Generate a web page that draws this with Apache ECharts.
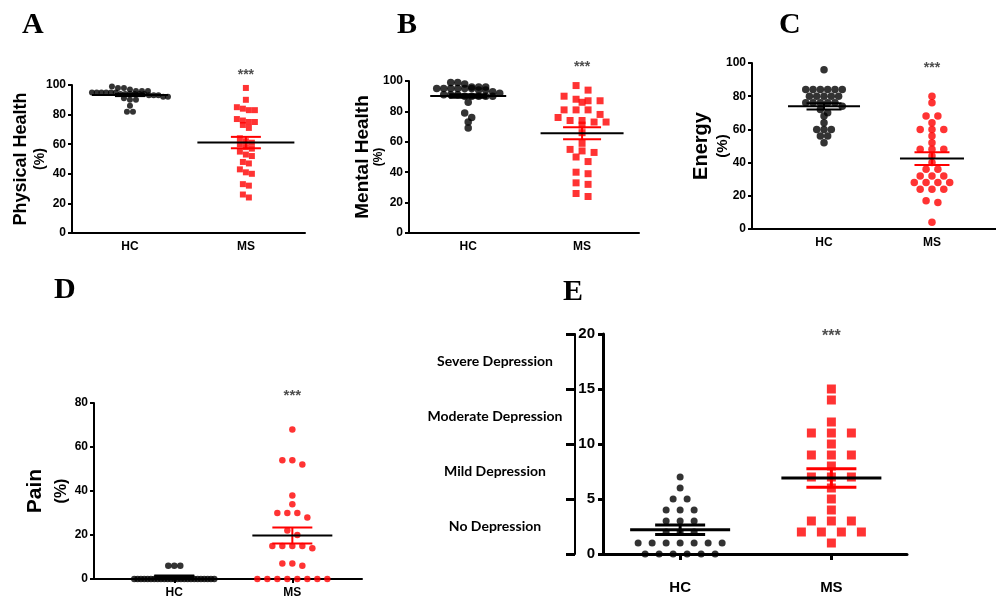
<!DOCTYPE html>
<html><head><meta charset="utf-8">
<script src="https://cdn.jsdelivr.net/npm/echarts@6/dist/echarts.min.js"></script>
<style>html,body{margin:0;padding:0;background:#fff}#c{width:996px;height:604px}</style>
</head><body><div id="c"></div>
<script>
// ---------- data ----------
const groups = ['HC', 'MS'];
const depressionLevels = ['No Depression', 'Mild Depression', 'Moderate Depression', 'Severe Depression'];

const physHC = [99, 98, 98, 97, 96, 96, 96, 95, 95, 95, 95, 95, 95, 94, 94, 94, 94, 94, 94, 93, 93, 93, 92, 92, 91, 90, 90, 86, 82, 82];
const physMS = [98, 90, 85, 84, 83, 83, 77, 76, 75, 75, 73, 71, 64, 62, 61, 60, 58, 57, 55, 53, 52, 48, 47, 43, 41, 40, 33, 32, 26, 24];
const physMean = [93.2, 61.1];
const physSem = [0.7, 3.85];

const mentHC = [99, 99, 98, 96, 96, 96, 95, 95, 95, 95, 95, 95, 94, 94, 93, 92, 91, 91, 91, 90, 90, 90, 90, 90, 86, 79, 76, 73, 69];
const mentMS = [97, 94, 90, 88, 87, 87, 86, 81, 81, 81, 78, 76, 74, 74, 73, 73, 71, 66, 59, 55, 54, 53, 50, 47, 40, 39, 33, 32, 26, 24];
const mentMean = [90.1, 65.6];
const mentSem = [1.2, 3.9];

const energyHC = [96, 84, 84, 84, 84, 84, 84, 80, 80, 80, 80, 80, 76, 76, 76, 76, 76, 74, 72, 70, 68, 64, 60, 60, 60, 56, 56, 52];
const energyMS = [80, 76, 68, 68, 64, 60, 60, 60, 56, 52, 48, 48, 48, 44, 40, 36, 36, 32, 32, 32, 28, 28, 28, 28, 24, 24, 24, 17, 16, 4];
const energyMean = [73.9, 42.4];
const energySem = [1.85, 3.85];

const painHC = [6, 6, 6, 0, 0, 0, 0, 0, 0, 0, 0, 0, 0, 0, 0, 0, 0, 0, 0, 0, 0, 0, 0, 0, 0, 0, 0, 0];
const painMS = [68, 54, 54, 52, 38, 34, 30, 30, 30, 28, 22, 20, 15, 15, 15, 15, 14, 7, 7, 6, 0, 0, 0, 0, 0, 0, 0, 0];
const painMean = [1.2, 19.8];
const painSem = [0.4, 3.65];

const bdiHC = [7, 6, 5, 5, 4, 4, 4, 3, 3, 3, 2, 2, 2, 1, 1, 1, 1, 1, 1, 1, 0, 0, 0, 0, 0, 0];
const bdiMS = [15, 14, 12, 11, 11, 11, 10, 9, 9, 9, 8, 7, 7, 7, 6, 5, 4, 3, 3, 3, 2, 2, 2, 2, 1];
const bdiMean = [2.2, 6.9];
const bdiSem = [0.43, 0.84];

const sigLevel = [106.8, 109.2, 97, 83.3, 19.8];
const sigText = '***';

// ---------- layout / style ----------
const FONT = 'Liberation Sans, Arial, sans-serif';
const panels = [
  {letter: 'A', letterPos: [22, 10], grid: {left: 72, top: 85, width: 233, height: 148}, xRange: [0.5, 2.51], yMax: 100, yStep: 20,
   hc: physHC, ms: physMS, mean: physMean, sem: physSem, name: 'Physical Health', nameGap: 24, aSize: 18, aLH: 22, bSize: 14, bLH: 16,
   hcSize: 6, msSize: 6, msSymbol: 'rect', hcStep: 6, msStep: 6, hcMaxW: 76, msMaxW: 36, binH: 5,
   meanW: [76, 97], semW: 30, lw: 2, axisW: 2, tickFont: 12, xTicks: false, sigFont: 14},
  {letter: 'B', letterPos: [397, 10], grid: {left: 409, top: 81, width: 230, height: 152}, xRange: [0.48, 2.5], yMax: 100, yStep: 20,
   hc: mentHC, ms: mentMS, mean: mentMean, sem: mentSem, name: 'Mental Health', nameGap: 23, aSize: 19, aLH: 18, bSize: 12, bLH: 14,
   hcSize: 7.5, msSize: 7, msSymbol: 'rect', hcStep: 7, msStep: 12, hcMaxW: 76, msMaxW: 60, binH: 6,
   meanW: [76, 83], semW: 38, lw: 2, axisW: 2, tickFont: 12, xTicks: false, sigFont: 14},
  {letter: 'C', letterPos: [779, 10], grid: {left: 752, top: 63, width: 244, height: 166}, xRange: [0.333, 2.593], yMax: 100, yStep: 20,
   hc: energyHC, ms: energyMS, mean: energyMean, sem: energySem, name: 'Energy', nameGap: 21, aSize: 20, aLH: 28, bSize: 15, bLH: 16,
   hcSize: 7.5, msSize: 7.5, msSymbol: 'circle', hcStep: 7.3, msStep: 11.8, hcMaxW: 76, msMaxW: 60, binH: 6,
   meanW: [72, 64], semW: 35, lw: 2, axisW: 2, tickFont: 12, xTicks: false, sigFont: 14},
  {letter: 'D', letterPos: [54, 275], grid: {left: 94, top: 403, width: 268, height: 176}, xRange: [0.32, 2.59], yMax: 80, yStep: 20,
   hc: painHC, ms: painMS, mean: painMean, sem: painSem, name: 'Pain', nameGap: 23, aSize: 21, aLH: 36, bSize: 16, bLH: 18,
   hcSize: 6.5, msSize: 6.5, msSymbol: 'circle', hcStep: 6, msStep: 10, hcMaxW: 80, msMaxW: 80, binH: 6,
   meanW: [40, 80], semW: 40, lw: 2, axisW: 2, tickFont: 12, xTicks: true, sigFont: 15},
  {letter: 'E', letterPos: [563, 277], grid: {left: 603, top: 334, width: 304, height: 220}, xRange: [0.49, 2.5], yMax: 20, yStep: 5,
   hc: bdiHC, ms: bdiMS, mean: bdiMean, sem: bdiSem, name: '', nameGap: 0,
   hcSize: 7, msSize: 9, msSymbol: 'rect', hcStep: 14, msStep: 20, hcMaxW: 100, msMaxW: 100, binH: 6,
   meanW: [100, 100], semW: 50, lw: 3, axisW: 3, tickFont: 15, xTicks: true, sigFont: 16, big: true}
];

// Row-based dot layout (like a column scatter plot): values that fall in the same
// pixel band are spread symmetrically around the group centre.
function swarm(values, center, pxX, pxY, binH, step, maxW) {
  const sorted = values.slice().sort((a, b) => b - a);
  const rows = [];
  let cur = null;
  sorted.forEach(v => {
    if (!cur || (cur.start - v) * pxY >= binH) { cur = {start: v, vals: []}; rows.push(cur); }
    cur.vals.push(v);
  });
  const pts = [];
  rows.forEach(r => {
    const n = r.vals.length;
    const s = n > 1 ? Math.min(step, maxW / (n - 1)) : 0;
    r.vals.forEach((v, i) => pts.push([center + (i - (n - 1) / 2) * s / pxX, v]));
  });
  return pts;
}

const grids = [], xAxes = [], yAxes = [], series = [], titles = [];

panels.forEach((p, i) => {
  const pxX = p.grid.width / (p.xRange[1] - p.xRange[0]);
  const pxY = p.grid.height / p.yMax;
  grids.push(Object.assign({containLabel: false}, p.grid));
  titles.push({text: p.letter, left: p.letterPos[0], top: p.letterPos[1], padding: 0,
    textStyle: {fontFamily: 'Liberation Serif, Times New Roman, serif', fontWeight: 'bold', fontSize: 30, color: '#000'}});

  xAxes.push({
    gridIndex: i, type: 'value', min: p.xRange[0], max: p.xRange[1],
    axisLine: {show: true, onZero: false, lineStyle: {color: '#000', width: p.axisW}},
    axisTick: {show: p.xTicks, customValues: [1, 2], length: p.big ? 6 : 4, lineStyle: {color: '#000', width: p.axisW}},
    axisLabel: {show: true, customValues: [1, 2], formatter: v => groups[Math.round(v) - 1] || '',
      margin: p.big ? 26 : 8, fontFamily: FONT, fontWeight: 'bold', fontSize: p.big ? 15 : 12, color: '#000'},
    splitLine: {show: false}
  });
  const yIndex = yAxes.length;
  yAxes.push({
    gridIndex: i, type: 'value', min: 0, max: p.yMax, interval: p.yStep,
    axisLine: {show: true, onZero: false, lineStyle: {color: '#000', width: p.axisW}},
    axisTick: {show: true, length: p.big ? 5 : 4, lineStyle: {color: '#000', width: p.axisW}},
    axisLabel: {margin: p.big ? 8 : 6, fontFamily: FONT, fontWeight: 'bold', fontSize: p.tickFont, color: '#000'},
    splitLine: {show: false},
    name: p.name ? '{a|' + p.name + '}\n{b|(%)}' : '',
    nameLocation: 'middle', nameRotate: 90, nameGap: p.nameGap, nameMoveOverlap: false,
    nameTextStyle: {rich: {
      a: {fontFamily: FONT, fontWeight: 'bold', fontSize: p.aSize, lineHeight: p.aLH, color: '#000'},
      b: {fontFamily: FONT, fontWeight: 'bold', fontSize: p.bSize, lineHeight: p.bLH, color: '#000'}
    }}
  });
  if (p.big) {
    yAxes.push({
      gridIndex: i, type: 'category', data: depressionLevels, position: 'left', offset: 28, boundaryGap: true,
      axisLine: {show: true, onZero: false, lineStyle: {color: '#000', width: 2}},
      axisTick: {show: true, length: 9, lineStyle: {color: '#000', width: 3}},
      axisLabel: {margin: 80, align: 'center', fontFamily: 'Lato, Noto Sans, sans-serif', fontWeight: 'bold', fontSize: 14, color: '#000'},
      splitLine: {show: false}
    });
  }

  series.push({
    type: 'scatter', xAxisIndex: i, yAxisIndex: yIndex, symbol: 'circle', symbolSize: p.hcSize,
    itemStyle: {color: '#000'}, z: 2, clip: false,
    data: swarm(p.hc, 1, pxX, pxY, p.binH, p.hcStep, p.hcMaxW)
  });
  series.push({
    type: 'scatter', xAxisIndex: i, yAxisIndex: yIndex, symbol: p.msSymbol, symbolSize: p.msSize,
    itemStyle: {color: '#ff0000'}, z: 2, clip: false,
    data: swarm(p.ms, 2, pxX, pxY, p.binH, p.msStep, p.msMaxW)
  });
  series.push({
    type: 'custom', xAxisIndex: i, yAxisIndex: yIndex, z: 3, encode: {x: 0, y: 1},
    data: [[1, p.mean[0], p.sem[0]], [2, p.mean[1], p.sem[1]]],
    renderItem: (params, api) => {
      const x = api.value(0), m = api.value(1), s = api.value(2);
      const c = api.coord([x, m]), hi = api.coord([x, m + s]), lo = api.coord([x, m - s]);
      const k = params.dataIndex;
      const semColor = k === 0 ? '#000' : '#ff0000';
      const mw = p.meanW[k] / 2, sw = p.semW / 2;
      const st = col => ({stroke: col, lineWidth: p.lw});
      return {type: 'group', children: [
        {type: 'line', shape: {x1: c[0], y1: hi[1], x2: c[0], y2: lo[1]}, style: st(semColor)},
        {type: 'line', shape: {x1: c[0] - sw, y1: hi[1], x2: c[0] + sw, y2: hi[1]}, style: st(semColor)},
        {type: 'line', shape: {x1: c[0] - sw, y1: lo[1], x2: c[0] + sw, y2: lo[1]}, style: st(semColor)},
        {type: 'line', shape: {x1: c[0] - mw, y1: c[1], x2: c[0] + mw, y2: c[1]}, style: st('#000')}
      ]};
    }
  });
  series.push({
    type: 'scatter', xAxisIndex: i, yAxisIndex: yIndex, symbolSize: 0, z: 4, clip: false, silent: true,
    data: [[2, sigLevel[i]]],
    label: {show: true, position: 'inside', formatter: sigText, fontFamily: FONT, fontWeight: 'bold', fontSize: p.sigFont, color: '#222'}
  });
});

const chart = echarts.init(document.getElementById('c'), null, {renderer: 'canvas'});
chart.setOption({
  animation: false, backgroundColor: '#fff',
  title: titles, grid: grids, xAxis: xAxes, yAxis: yAxes, series: series
});
</script></body></html>
